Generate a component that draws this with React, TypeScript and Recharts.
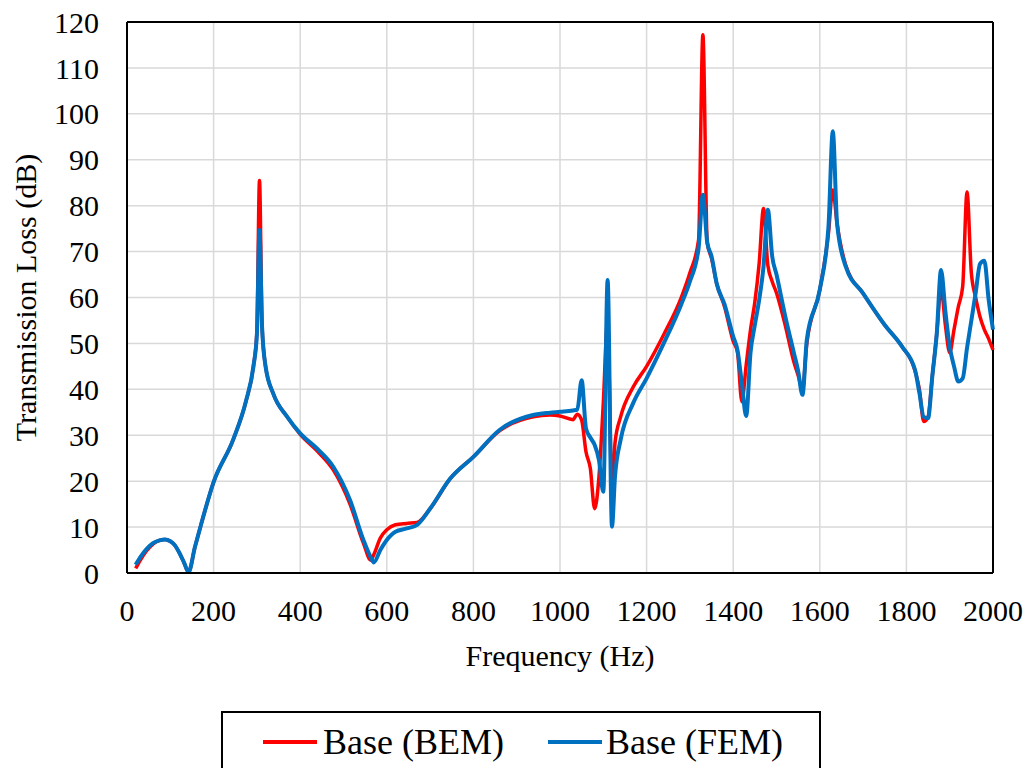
import { LineChart, Line, XAxis, YAxis, CartesianGrid, ReferenceLine } from 'recharts';

// frequency samples (Hz)
const freq = [
  20, 32, 45, 60, 75, 88, 100, 110, 122, 132, 142, 157, 170, 200, 245, 275, 292, 300, 306, 312, 320, 338, 370, 400,
  440, 476, 515, 546, 563, 570, 585, 600, 620, 646, 670, 700, 746, 800, 861, 938, 977, 1000, 1030, 1040,
  1050, 1060, 1070, 1080, 1090, 1100, 1110, 1120, 1127, 1140, 1169, 1200, 1240, 1280, 1300, 1320, 1330, 1340, 1350, 1362,
  1380, 1400, 1410, 1420, 1430, 1440, 1450, 1460, 1470, 1480, 1490, 1500, 1520, 1540, 1550, 1560, 1570, 1600, 1620, 1630,
  1640, 1660, 1700, 1750, 1790, 1820, 1830, 1840, 1850, 1860, 1870, 1880, 1890, 1900, 1910, 1920, 1930, 1940, 1950, 1960,
  1970, 1980, 1990, 2000,
];

// Base (BEM)
const bem = [
  1.0, 3.0, 4.8, 6.3, 7.1, 7.3, 6.9, 6.1, 4.2, 2.2, 0.2, 5.7, 10.2, 19.8, 29, 37.5, 45, 52.5, 85.5, 53.5, 45, 39, 34, 30.2,
  26.5, 22.5, 15, 6.5, 2.8, 4.0, 7.6, 9.4, 10.5, 10.8, 11.0, 14, 20.5, 25.3, 31, 34, 34.4, 34.2, 33.4, 34.6,
  33.3, 26.4, 22.8, 14.0, 21, 37, 55, 18, 28.3, 34, 40.5, 45, 52, 60, 65.4, 72.5, 117.2, 72, 68.5, 63,
  58, 50.5, 48, 37.3, 45.3, 53, 59, 67.5, 79.4, 67, 63.5, 61, 54, 46, 43, 40, 50, 61.7, 74, 83.4,
  76, 67, 60.9, 54, 49.3, 44, 40, 33, 34, 43, 52, 62, 54, 48, 53, 58, 62.4, 83, 65.3, 60,
  55.8, 53, 51, 48.6,
];

// Base (FEM)
const fem = [
  1.8, 3.6, 5.2, 6.5, 7.1, 7.3, 6.9, 6.1, 4.2, 2.2, 0.2, 5.7, 10.2, 19.8, 29, 37.5, 45, 52, 74.7, 53.5, 45, 39, 34, 30.4,
  27, 23.2, 15.9, 7.2, 3.4, 2.3, 5.0, 7.2, 9.0, 9.7, 10.5, 14, 20.5, 25.3, 31.2, 34.4, 34.9, 35.1, 35.4, 35.6,
  42, 31.5, 29.5, 27.9, 24.6, 17.7, 63.8, 10.1, 21, 29, 37, 42.4, 50.1, 58.5, 63.5, 70.7, 82.4, 72, 69, 63,
  58.5, 51.5, 48.5, 41.3, 34.2, 48, 54, 59.5, 66.7, 79.1, 69, 65, 56, 48, 44, 38.8, 50.8, 61.7, 75.4, 96.2,
  76, 66.7, 60.9, 54, 49.3, 44.2, 39.2, 34, 33.7, 43, 52, 66, 57, 49.3, 45, 41.7, 42.4, 49, 55, 61,
  67.3, 68, 59.5, 53,
];

const xTicks = [0, 200, 400, 600, 800, 1000, 1200, 1400, 1600, 1800, 2000];
const yTicks = [0, 10, 20, 30, 40, 50, 60, 70, 80, 90, 100, 110, 120];

const chartData = freq.map((f, i) => ({ freq: f, bem: bem[i], fem: fem[i] }));

const FONT = '"Liberation Serif", "Times New Roman", serif';
const RED = '#FF0000';
const BLUE = '#0070C0';

export default function App() {
  return (
    <div style={{ position: 'fixed', left: 0, top: 0, width: 1027, height: 768, background: '#fff', overflow: 'hidden', fontFamily: FONT }}>
      <LineChart width={1027} height={768} data={chartData} margin={{ top: 22, right: 34, left: 0, bottom: 95 }}>
        <CartesianGrid stroke="#d9d9d9" strokeWidth={1.5} />
        <XAxis
          dataKey="freq"
          type="number"
          domain={[0, 2000]}
          ticks={xTicks}
          height={100}
          tickLine={false}
          tickSize={6}
          tickMargin={21}
          axisLine={{ stroke: '#000', strokeWidth: 2 }}
          tick={{ fill: '#000', fontSize: 30, fontFamily: FONT }}
          label={{
            content: (p: any) => {
              const vb = p.viewBox;
              return (
                <text x={vb.x + vb.width / 2} y={vb.y + 93} textAnchor="middle" fill="#000" fontSize={30} fontFamily={FONT}>
                  Frequency (Hz)
                </text>
              );
            },
          }}
        />
        <YAxis
          type="number"
          domain={[0, 120]}
          ticks={yTicks}
          width={127}
          tickLine={false}
          tickSize={6}
          tickMargin={22}
          axisLine={{ stroke: '#000', strokeWidth: 2 }}
          tick={{ fill: '#000', fontSize: 30, fontFamily: FONT }}
          label={{
            content: (p: any) => {
              const vb = p.viewBox;
              const cx = vb.x + 36;
              const cy = vb.y + vb.height / 2;
              return (
                <text x={cx} y={cy} transform={`rotate(-90 ${cx} ${cy})`} textAnchor="middle" fill="#000" fontSize={30} fontFamily={FONT}>
                  Transmission Loss (dB)
                </text>
              );
            },
          }}
        />
        <ReferenceLine y={120} stroke="#000" strokeWidth={2} />
        <ReferenceLine x={2000} stroke="#000" strokeWidth={2} />
        <Line type="monotone" dataKey="bem" stroke={RED} strokeWidth={3.5} dot={false} isAnimationActive={false} />
        <Line type="monotone" dataKey="fem" stroke={BLUE} strokeWidth={4} dot={false} isAnimationActive={false} />
      </LineChart>

      {/* legend box, cut off by the bottom edge like the original */}
      <div style={{ position: 'absolute', left: 221, top: 711, width: 600, height: 80, border: '2px solid #000', boxSizing: 'border-box' }}>
        <div style={{ position: 'absolute', left: 40, top: 27, width: 54, height: 4, background: RED }} />
        <div style={{ position: 'absolute', left: 100, top: 11, fontSize: 36, lineHeight: '36px', whiteSpace: 'nowrap' }}>Base (BEM)</div>
        <div style={{ position: 'absolute', left: 325, top: 27, width: 54, height: 4, background: BLUE }} />
        <div style={{ position: 'absolute', left: 383, top: 11, fontSize: 36, lineHeight: '36px', whiteSpace: 'nowrap' }}>Base (FEM)</div>
      </div>
    </div>
  );
}
